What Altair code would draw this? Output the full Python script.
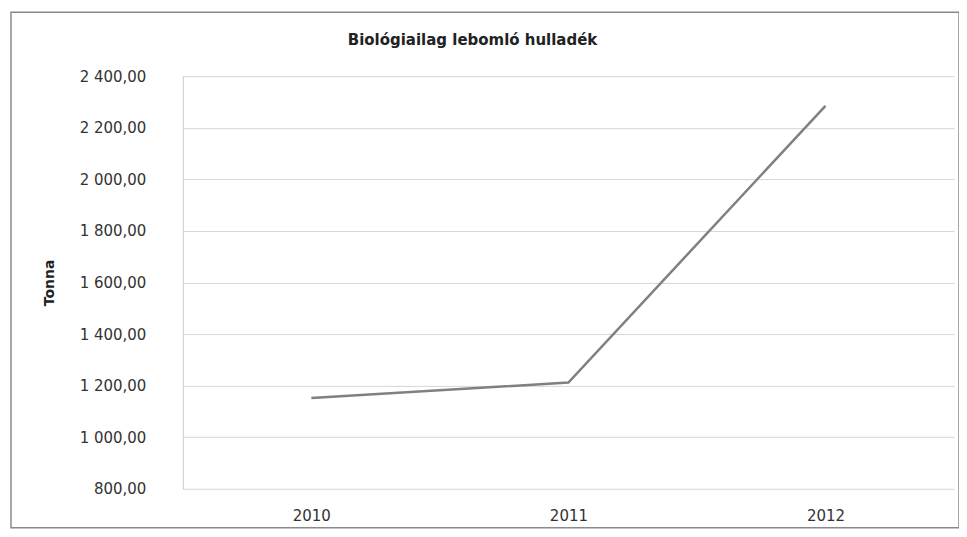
import altair as alt
import pandas as pd

years = ["2010", "2011", "2012"]
values = [1152, 1212, 2285]
y_ticks = [800, 1000, 1200, 1400, 1600, 1800, 2000, 2200, 2400]
chart_title = "Biológiailag lebomló hulladék"

df = pd.DataFrame({"year": years, "value": values})

FONT = "DejaVu Sans"

base = alt.Chart(df)

line = base.mark_line(color="#808080", strokeWidth=2.5).encode(
    x=alt.X("year:O", title=None, sort=years,
            scale=alt.Scale(type="point", padding=0.5),
            axis=alt.Axis(labelAngle=0, labelPadding=20, ticks=False, domain=False,
                          grid=False, labelFont=FONT, labelFontSize=15, labelColor="#333333")),
    y=alt.Y("value:Q", title="Tonna",
            scale=alt.Scale(domain=[800, 2400], nice=False, zero=False),
            axis=alt.Axis(values=y_ticks,
                          labelExpr="replace(replace(format(datum.value, ',.2f'), ',', ' '), '.', ',')",
                          labelPadding=37, ticks=False, domain=True, domainColor="#cccccc",
                          gridColor="#d6d6d6", gridWidth=1,
                          labelFont=FONT, labelFontSize=15, labelColor="#333333",
                          titleFont=FONT, titleFontSize=14, titleFontWeight="bold",
                          titleColor="#222222", titlePadding=23)),
)

one = pd.DataFrame({"t": [chart_title]})

title_mark = alt.Chart(one).mark_text(
    font=FONT, fontSize=15, fontWeight="bold", color="#222222",
    align="center", baseline="middle"
).encode(text="t:N", x=alt.value(290), y=alt.value(-36))

frame = alt.Chart(one).mark_rect(
    fill=None, stroke="#8a8a8a", strokeWidth=1.5
).encode(
    x=alt.value(-172), x2=alt.value(777), y=alt.value(-64), y2=alt.value(452)
)

chart = alt.layer(line, title_mark, frame).properties(
    width=772,
    height=413,
    background="white",
    autosize=alt.AutoSizeParams(type="none"),
    padding={"left": 175, "top": 68, "right": 5, "bottom": 40},
).configure_view(stroke=None)

chart.save("out.html", embed_options={"renderer": "svg", "actions": False})
